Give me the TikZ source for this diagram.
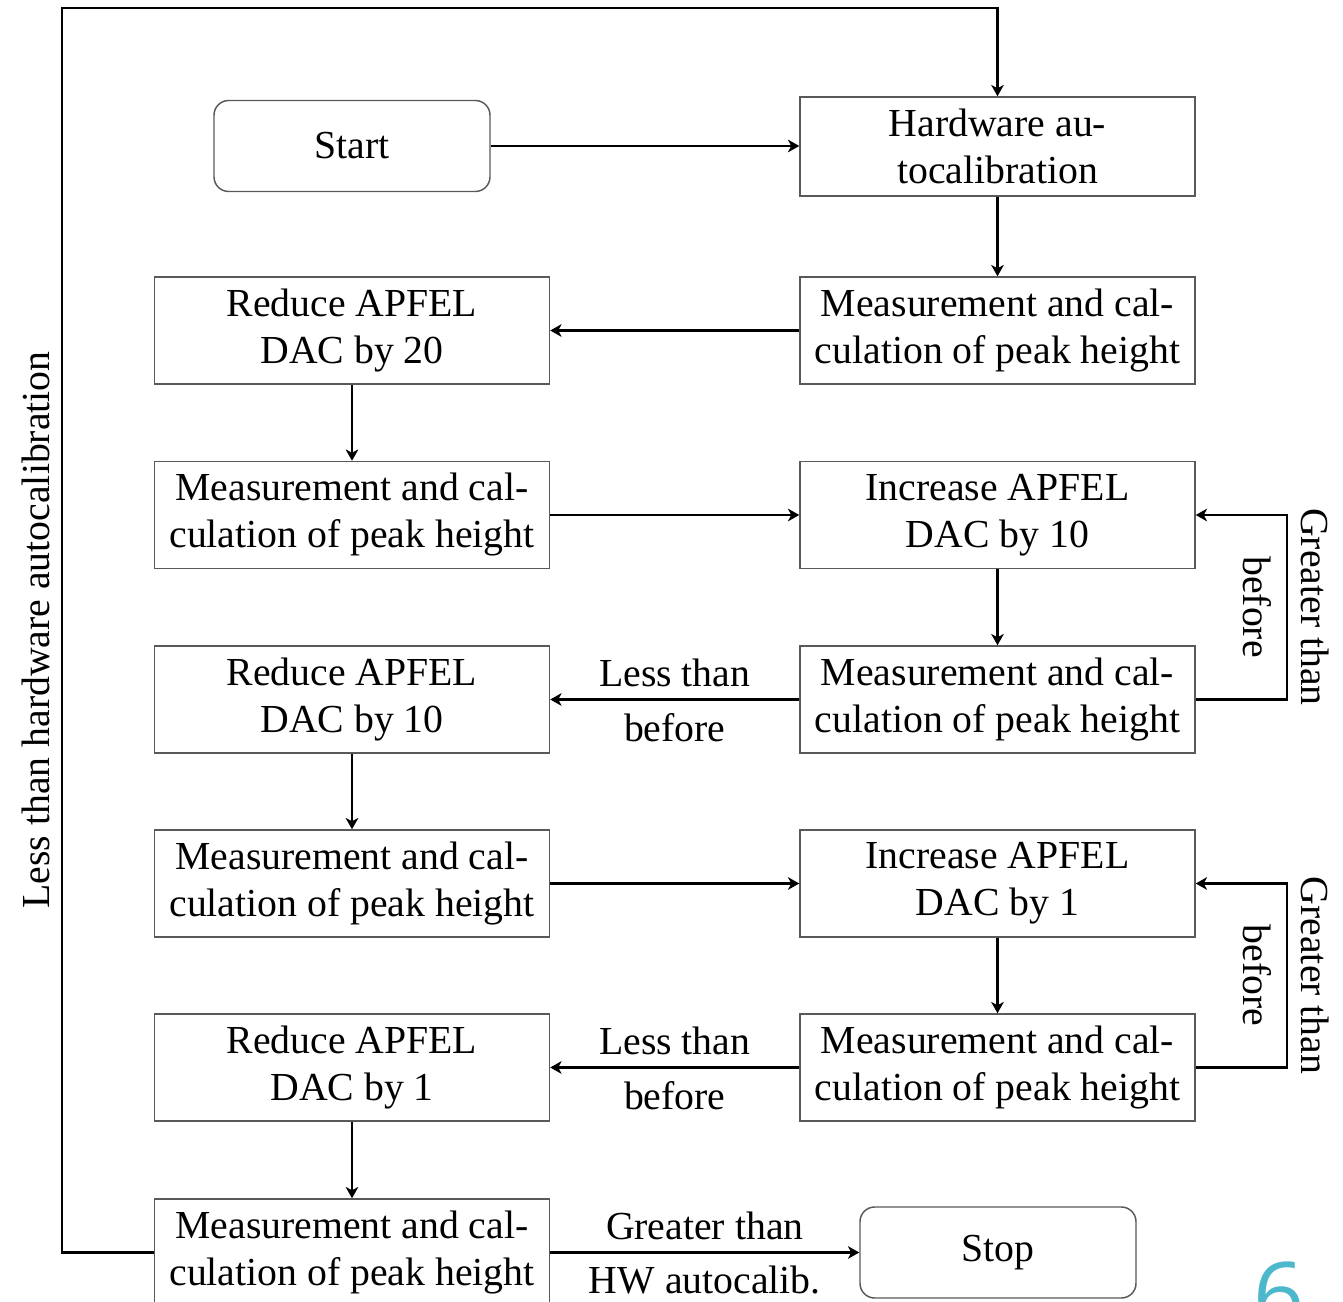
\documentclass[tikz,border=0pt]{standalone}
\usepackage{fontspec}
\setmainfont{Liberation Serif}
\newfontfamily\numfont{Open Sans}
\usetikzlibrary{arrows.meta}
\definecolor{slidecyan}{RGB}{77,184,204}
\begin{document}
\begin{tikzpicture}[x=0.75pt,y=-0.75pt,
  txt/.style={font=\fontsize{29.8}{35.25}\selectfont},
  box/.style={txt, draw=black!65, line width=1.1pt, minimum width=296.25pt,
    minimum height=80.25pt, inner sep=0pt, align=center},
  roundbox/.style={box, rounded corners=11pt, minimum width=207pt, minimum height=68.25pt},
  conn/.style={line width=1.9pt, -{Stealth[length=8.5pt,width=9.5pt,inset=2.5pt]}},
  lbl/.style={txt, inner sep=0pt}]
\useasboundingbox (0,0) rectangle (1343,1302);
\clip (0,0) rectangle (1343,1302);

\node[roundbox] (start) at (352,146) {Start};
\node[box, minimum height=74.25pt] (hw) at (997.5,146.5) {Hardware au-\\tocalibration};
\node[box] (m1) at (997.5,330.5) {Measurement and cal-\\culation of peak height};
\node[box] (r20) at (352,330.5) {Reduce APFEL\\DAC by 20};
\node[box] (m2) at (352,515) {Measurement and cal-\\culation of peak height};
\node[box] (i10) at (997.5,515) {Increase APFEL\\DAC by 10};
\node[box] (m3) at (997.5,699.5) {Measurement and cal-\\culation of peak height};
\node[box] (r10) at (352,699.5) {Reduce APFEL\\DAC by 10};
\node[box] (m4) at (352,883.5) {Measurement and cal-\\culation of peak height};
\node[box] (i1) at (997.5,883.5) {Increase APFEL\\DAC by 1};
\node[box] (m5) at (997.5,1067.5) {Measurement and cal-\\culation of peak height};
\node[box] (r1) at (352,1067.5) {Reduce APFEL\\DAC by 1};
\node[box] (m6) at (352,1252.5) {Measurement and cal-\\culation of peak height};
\node[roundbox] (stop) at (998,1252.5) {Stop};

\coordinate (lp) at (1287,0);
\coordinate (tl) at (62,8);

\draw[conn] (start.east) -- (start.east -| hw.west);
\draw[conn] (hw) -- (m1);
\draw[conn] (m1) -- (r20);
\draw[conn] (r20) -- (m2);
\draw[conn] (m2) -- (i10);
\draw[conn] (i10) -- (m3);
\draw[conn] (m3) -- node[lbl, midway, yshift=20.25pt] (l1a) {Less than}
  node[lbl, midway, yshift=-21pt] (l1b) {before} (r10);
\draw[conn] (m3.east) -| (lp |- i10.east) -- (i10.east);
\draw[conn] (r10) -- (m4);
\draw[conn] (m4) -- (i1);
\draw[conn] (i1) -- (m5);
\draw[conn] (m5) -- node[lbl, midway, yshift=20.25pt] (l2a) {Less than}
  node[lbl, midway, yshift=-21pt] (l2b) {before} (r1);
\draw[conn] (m5.east) -| (lp |- i1.east) -- (i1.east);
\draw[conn] (r1) -- (m6);
\draw[conn] (m6) -- node[lbl, midway, yshift=20.25pt] (l3a) {Greater than}
  node[lbl, midway, yshift=-21pt] (l3b) {HW autocalib.} (stop);
\draw[conn] (m6.west) -| (tl) -| (hw.north);

\node[lbl, rotate=-90] (g1) at (1315,607) {Greater than};
\node[lbl, rotate=-90] (b1) at (1257,607) {before};
\node[lbl, rotate=-90] (g2) at (1315,975.5) {Greater than};
\node[lbl, rotate=-90] (b2) at (1257,975.5) {before};
\node[lbl, rotate=90] (lt) at (36,630) {Less than hardware autocalibration};

\node[font=\numfont\fontsize{67}{67}\selectfont, text=slidecyan, anchor=base west, inner sep=0pt] (pg) at (1253,1326) {6};
\end{tikzpicture}
\end{document}
